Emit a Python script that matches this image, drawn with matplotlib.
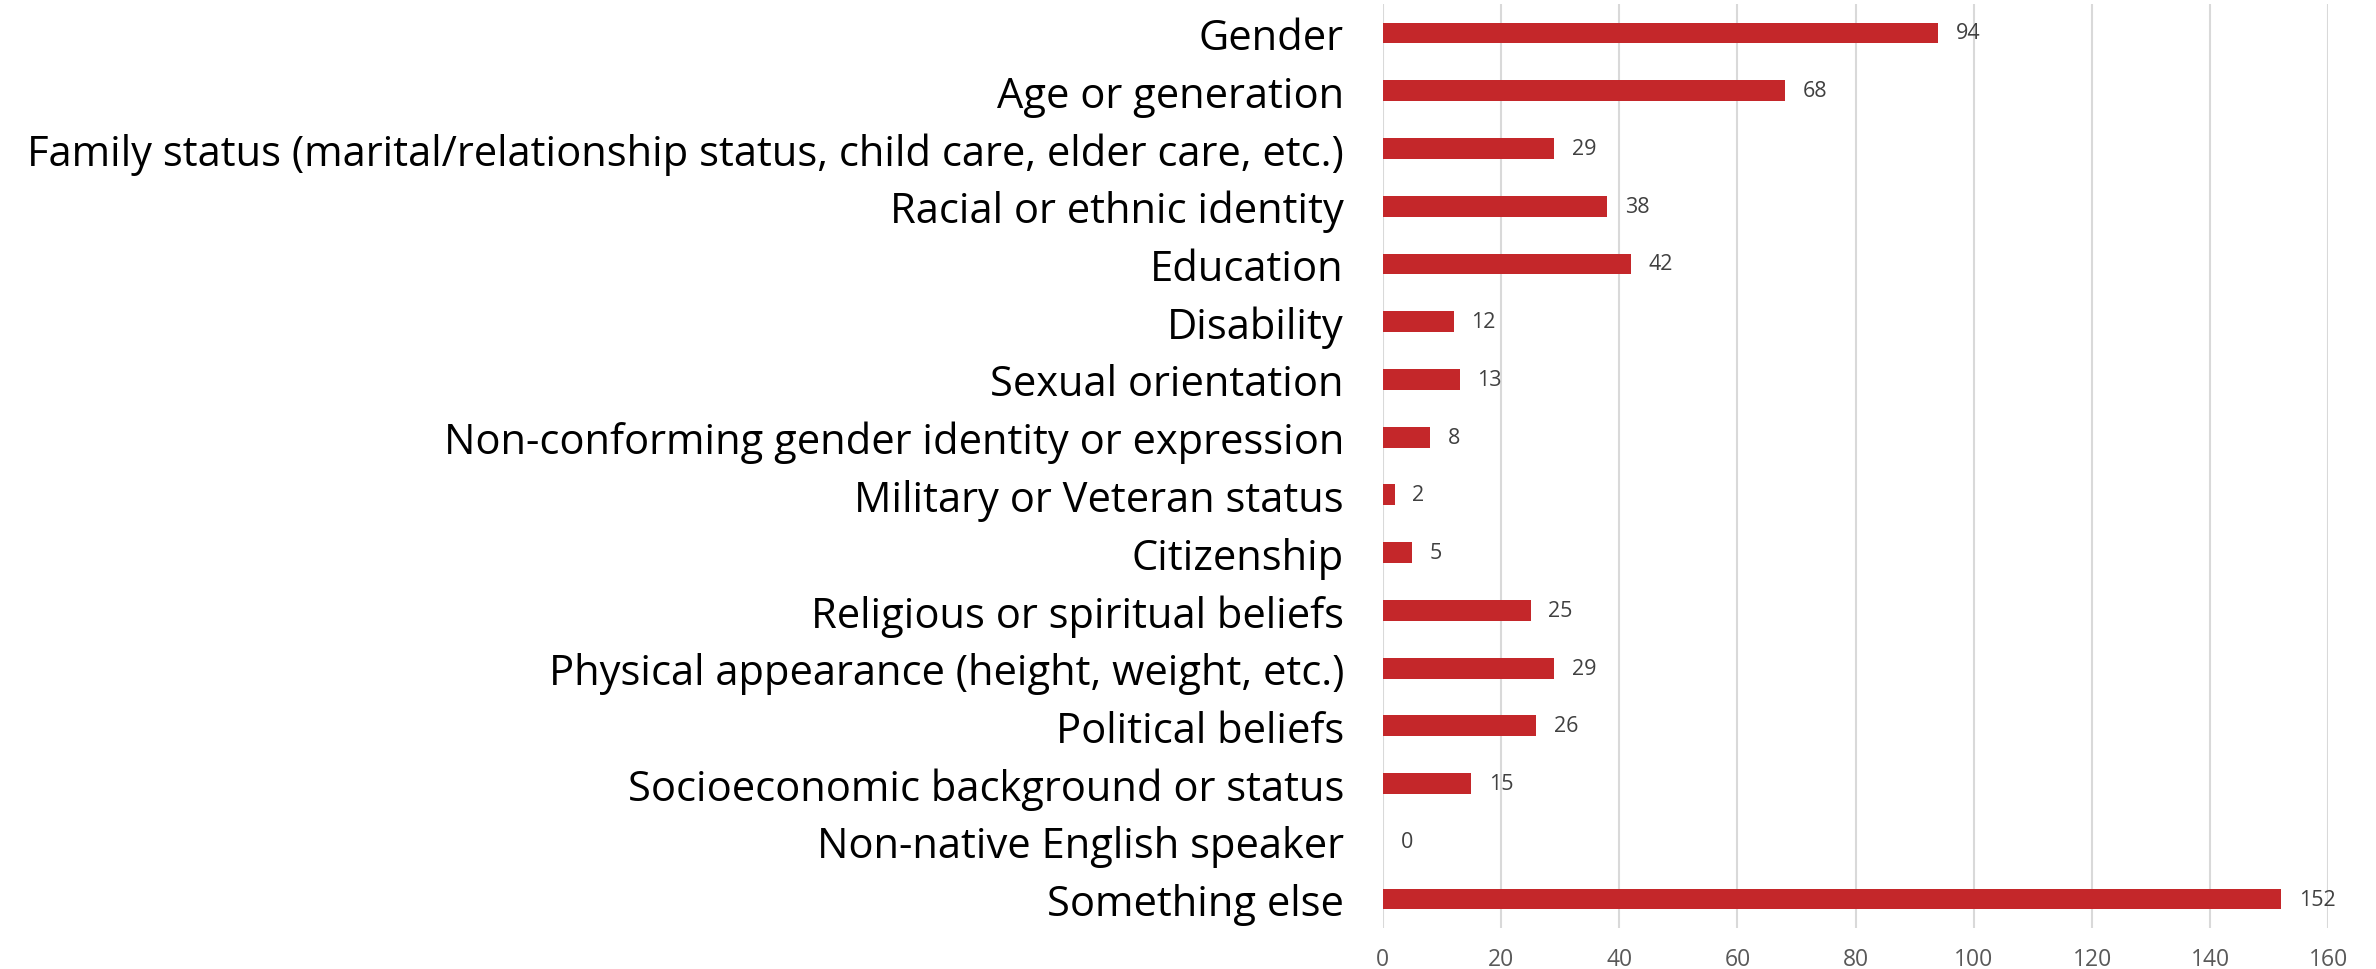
import matplotlib
matplotlib.use("Agg")
import matplotlib.pyplot as plt
from matplotlib import font_manager

categories = [
    "Gender",
    "Age or generation",
    "Family status (marital/relationship status, child care, elder care, etc.)",
    "Racial or ethnic identity",
    "Education",
    "Disability",
    "Sexual orientation",
    "Non-conforming gender identity or expression",
    "Military or Veteran status",
    "Citizenship",
    "Religious or spiritual beliefs",
    "Physical appearance (height, weight, etc.)",
    "Political beliefs",
    "Socioeconomic background or status",
    "Non-native English speaker",
    "Something else",
]
counts = [94, 68, 29, 38, 42, 12, 13, 8, 2, 5, 25, 29, 26, 15, 0, 152]
x_ticks = [0, 20, 40, 60, 80, 100, 120, 140, 160]

names = {f.name for f in font_manager.fontManager.ttflist}
family = [n for n in ["Liberation Sans Narrow", "Open Sans", "DejaVu Sans"] if n in names]
plt.rcParams["font.family"] = family

fig = plt.figure(figsize=(23.76, 9.70), dpi=100)
ax = fig.add_axes([0.582, 0.0423, 0.398, 0.9525])

bar_color = "#C4272A"
pos = list(range(len(categories)))
ax.barh(pos, counts, height=0.36, color=bar_color, zorder=3)

for y, v in zip(pos, counts):
    ax.text(v + 3.0, y, str(v), va="center", ha="left", fontsize=15.5,
            color="#404040", zorder=4)

ax.set_ylim(len(categories) - 0.5, -0.5)
ax.set_xlim(0, 160)
ax.set_xticks(x_ticks)
ax.set_xticklabels([str(t) for t in x_ticks], fontsize=16.5, color="#595959")
ax.set_yticks(pos)
ax.set_yticklabels(categories, fontsize=30, color="#000000")
ax.tick_params(axis="both", length=0)
ax.tick_params(axis="y", pad=28)
ax.tick_params(axis="x", pad=14)
ax.xaxis.grid(True, color="#D9D9D9", linewidth=1.5, zorder=0)
ax.set_axisbelow(True)
for s in ax.spines.values():
    s.set_visible(False)

fig.savefig("out.png", dpi=100, facecolor="white")
